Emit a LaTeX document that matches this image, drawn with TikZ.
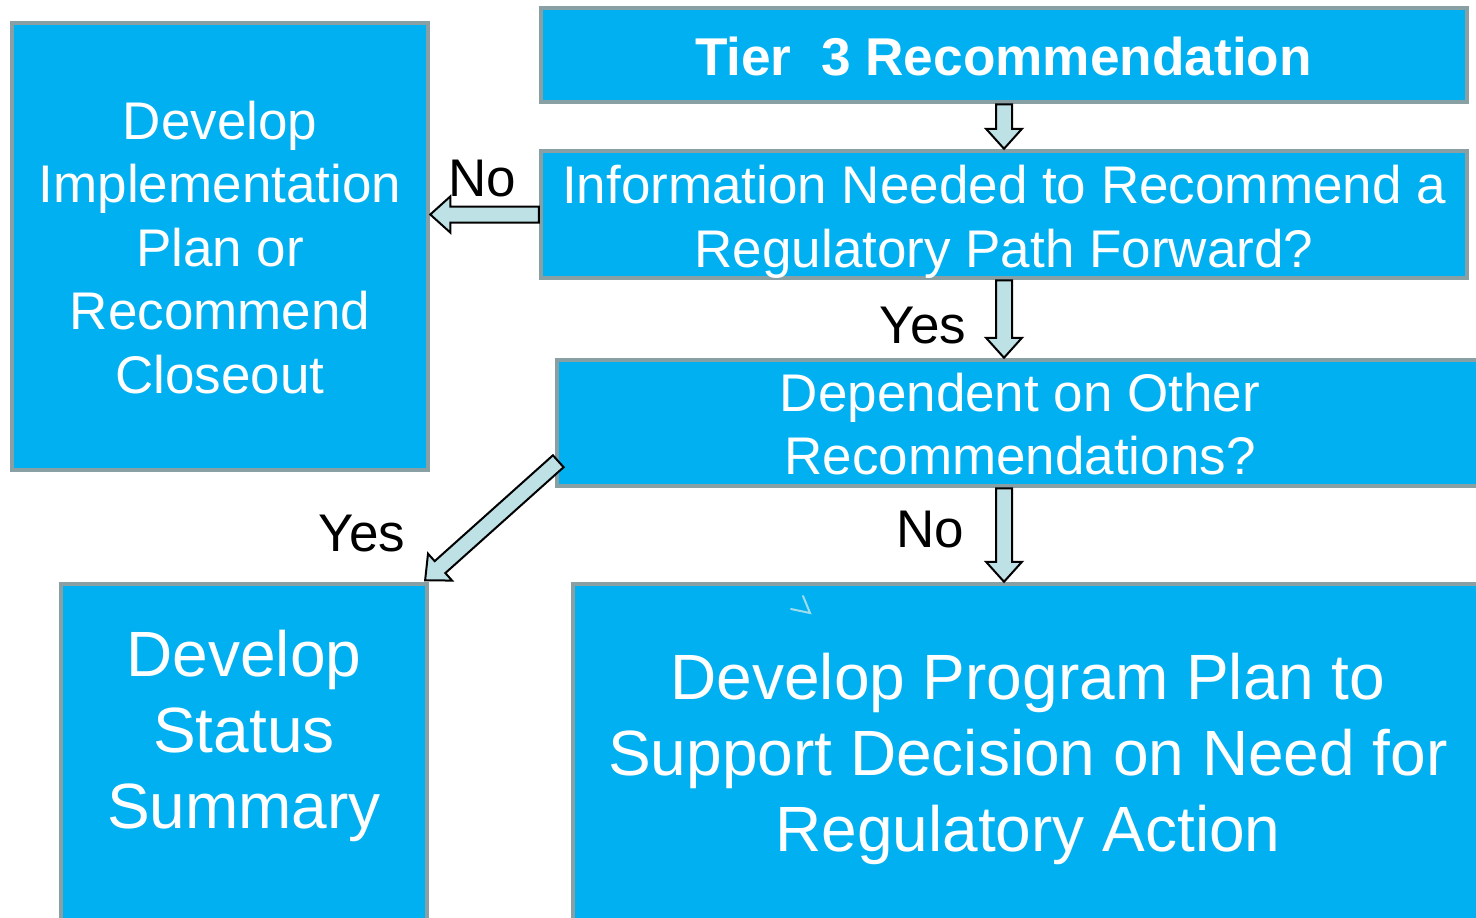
\documentclass[tikz,border=0pt]{standalone}
\usepackage{fontspec}
\setmainfont{Liberation Sans}
\usetikzlibrary{calc}
\definecolor{boxfill}{RGB}{0,176,240}
\definecolor{boxline}{RGB}{136,160,164}
\definecolor{arrowfill}{RGB}{190,225,230}
\definecolor{markline}{RGB}{160,220,235}

% Outlined block arrow from #1 to #2 (shaft half-width 4pt, head 9pt x 10pt)
\newcommand\blockarrow[2]{%
  \path let \p1=(#1), \p2=(#2) in \pgfextra{%
    \pgfmathsetmacro\arrlen{veclen(\x2-\x1,\y2-\y1)}%
    \pgfmathsetmacro\arrang{atan2(\y2-\y1,\x2-\x1)}%
    \xdef\arrlen{\arrlen}\xdef\arrang{\arrang}%
    \xdef\arrx{\x1}\xdef\arry{\y1}};
  \begin{scope}[shift={(\arrx,\arry)}, rotate=\arrang]
    \draw[blockarrow] (0pt,-4pt) -- ({\arrlen pt-10pt},-4pt) -- ({\arrlen pt-10pt},-9pt)
      -- (\arrlen pt,0pt) -- ({\arrlen pt-10pt},9pt) -- ({\arrlen pt-10pt},4pt) -- (0pt,4pt) -- cycle;
  \end{scope}}

\tikzset{
  box/.style={draw=boxline, line width=2.25pt, fill=boxfill, inner sep=0pt},
  boxtext/.style={text=white, align=center, inner sep=0pt, font=\fontsize{26.5}{31.75}\selectfont},
  bigtext/.style={text=white, align=center, inner sep=0pt, font=\fontsize{32}{38}\selectfont},
  lbl/.style={text=black, inner sep=0pt, font=\fontsize{26.5}{30}\selectfont},
  blockarrow/.style={draw=black, line width=1pt, fill=arrowfill, line join=miter}
}

\begin{document}
\begin{tikzpicture}[x=0.5pt, y=-0.5pt]
  \useasboundingbox (0,0) rectangle (1476,917);
  \clip (0,0) rectangle (1476,917);

  % boxes
  \node[box, minimum width=463pt, minimum height=47pt] (tier) at (1004,55) {};
  \node[box, minimum width=463pt, minimum height=63.5pt] (info) at (1004,214.5) {};
  \node[box, minimum width=463.5pt, minimum height=63pt] (dep) at (1020.5,423) {};
  \node[box, minimum width=208pt, minimum height=223.5pt] (impl) at (220,246.5) {};
  \node[box, minimum width=183pt, minimum height=188pt] (stat) at (244,772) {};
  \node[box, minimum width=458.5pt, minimum height=188pt] (prog) at (1031.5,772) {};

  % box texts
  \node[boxtext, font=\fontsize{26.6}{31.75}\selectfont\bfseries] (tiert) at (1003.5,57) {Tier~~3 Recommendation};
  \node[boxtext] (infot) at (1004,222) {Information Needed to Recommend a\\Regulatory Path Forward?};
  \node[boxtext] (dept) at (1020,424) {Dependent on Other\\Recommendations?};
  \node[boxtext] (implt) at (220,247.5) {Develop\\Implementation\\Plan or\\Recommend\\Closeout};
  \node[bigtext] (statt) at (244,736) {Develop\\Status\\Summary};
  \node[bigtext] (progt) at (1028,759) {Develop Program Plan to\\Support Decision on Need for\\Regulatory Action};

  % stray pen stroke
  \draw[markline, line width=1pt, line cap=round] (791,609) -- (810,613) -- (803,596);

  % connectors
  \blockarrow{tier.south}{info.north}
  \blockarrow{info.west}{impl.east |- info.west}
  \blockarrow{info.south}{info.south |- dep.north}
  \blockarrow{info.south |- dep.south}{info.south |- prog.north}
  \coordinate (dtail) at ($(dep.south west)+(3.5,-27)$);
  \coordinate (dtip) at ($(stat.north east)+(-4.5,-1)$);
  \blockarrow{dtail}{dtip}

  % branch labels
  \node[lbl] (no1) at (482,179) {No};
  \node[lbl] (yes1) at (923,326) {Yes};
  \node[lbl] (yes2) at (362,534) {Yes};
  \node[lbl] (no2) at (930,530) {No};
\end{tikzpicture}
\end{document}
